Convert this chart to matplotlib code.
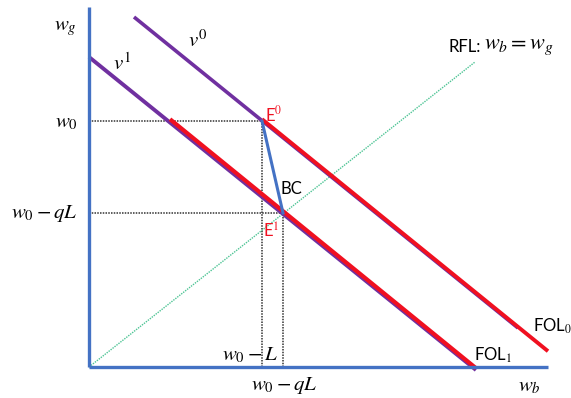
"""Insurance diagram: indifference curves, fair odds lines, budget constraint"""
import matplotlib
matplotlib.use("Agg")
import matplotlib.pyplot as plt

plt.rcParams['mathtext.fontset'] = 'stix'
plt.rcParams['font.family'] = ['Lato', 'DejaVu Sans']

# coordinates (w_b, w_g), origin at the axes corner
w0 = 246
w0_qL = 154
x_E0 = 173
x_E1 = 194
axis_top = 360
axis_right = 459

v0_x = [45, 429]
v0_y = [350, 39]
fol0_x = [x_E0, 459]
fol0_y = [w0, 14]
v1_x = [0, 387]
v1_y = [310, -3]
fol1_x = [81, 387]
fol1_y = [w0, -3]
rfl_x = [0, 386]
rfl_y = [0, 305]

purple = "#7030A0"
red = "#F01020"
blue = "#4472C4"
green = "#4CC494"

fig = plt.figure(figsize=(5.71, 3.98), dpi=100)
ax = fig.add_axes([0, 0, 1, 1])
ax.set_xlim(-89, 482)
ax.set_ylim(-31, 367)
ax.axis("off")

dots = (0, (1, 0.8))
# guide lines
ax.plot([0, x_E0], [w0, w0], color="#333333", linestyle=dots, lw=1.1)
ax.plot([0, x_E1], [w0_qL, w0_qL], color="#333333", linestyle=dots, lw=1.1)
ax.plot([x_E0, x_E0], [0, w0], color="#333333", linestyle=dots, lw=1.1)
ax.plot([x_E1, x_E1], [0, w0_qL], color="#333333", linestyle=dots, lw=1.1)
ax.plot(rfl_x, rfl_y, color=green, linestyle=dots, lw=1)

# indifference curves, fair odds lines drawn on top (slightly offset)
ax.plot(v0_x, v0_y, color=purple, lw=2.6, solid_capstyle="butt")
ax.plot(fol0_x, [y + 1.8 for y in fol0_y], color=red, lw=2.8, solid_capstyle="butt")
ax.plot(v1_x, v1_y, color=purple, lw=2.8, solid_capstyle="butt")
ax.plot(fol1_x, [y + 1.8 for y in fol1_y], color=red, lw=3, solid_capstyle="butt")

# budget constraint
ax.plot([x_E0, x_E1], [w0, w0_qL], color=blue, lw=2.2)

# axes
ax.plot([0, 0], [0, axis_top], color=blue, lw=2.4, solid_capstyle="butt")
ax.plot([0, axis_right], [0, 0], color=blue, lw=2.4, solid_capstyle="butt")

fs = 15
ax.text(-24, 339, r"$w_g$", fontsize=fs, ha="center", va="center")
ax.text(440, -19, r"$w_b$", fontsize=fs, ha="center", va="center")
ax.text(109, 327, r"$v^0$", fontsize=fs, ha="center", va="center")
ax.text(33, 304, r"$v^1$", fontsize=fs, ha="center", va="center")
ax.text(-11, 245, r"$w_0$", fontsize=fs, ha="right", va="center")
ax.text(-11, 154, r"$w_0 - qL$", fontsize=fs, ha="right", va="center")
ax.text(161, 12, r"$w_0 - L$", fontsize=fs, ha="center", va="center")
ax.text(195, -19, r"$w_0 - qL$", fontsize=fs, ha="center", va="center")
ax.text(176, 253, r"E$^0$", fontsize=12, color=red, ha="left", va="center")
ax.text(174, 136, r"E$^1$", fontsize=12, color=red, ha="left", va="center")
ax.text(191, 178, "BC", fontsize=12, ha="left", va="center")
ax.text(359, 320, "RFL:", fontsize=12, ha="left", va="center")
ax.text(395, 320, r"$w_b = w_g$", fontsize=16, ha="left", va="center")
ax.text(444, 41, r"FOL$_0$", fontsize=12, ha="left", va="center")
ax.text(385, 12, r"FOL$_1$", fontsize=12, ha="left", va="center")

fig.savefig("out.png", dpi=100)
